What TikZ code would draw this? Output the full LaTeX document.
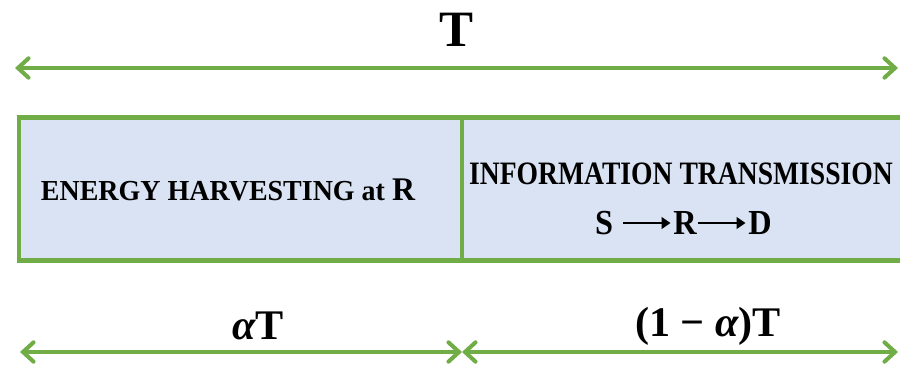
\documentclass[tikz,border=0pt]{standalone}
\usepackage{fontspec}
\setmainfont{Liberation Serif}
\usetikzlibrary{arrows.meta}
\definecolor{phasegreen}{RGB}{112,173,71}
\definecolor{phaseblue}{RGB}{218,227,243}

\begin{document}
\begin{tikzpicture}[x=0.02cm,y=0.02cm,
  span/.style={draw=phasegreen, line width=2.3pt,
    {Straight Barb[length=6pt,width=11pt,line cap=round]}-{Straight Barb[length=6pt,width=11pt,line cap=round]}},
  phase/.style={draw=phasegreen, line width=2.5pt, fill=phaseblue,
    inner sep=0pt, outer sep=0pt, minimum height=2.86cm, anchor=north west},
  lbl/.style={inner sep=0pt, font=\bfseries},
  hop/.style={inner sep=0pt, font=\bfseries\fontsize{20}{22}\selectfont, xscale=0.92, transform shape},
  hoparrow/.style={line width=1.6pt, -{Triangle[length=5pt,width=6.5pt]}}]
\useasboundingbox (0,0) rectangle (900,365);
\clip (0,0) rectangle (900,365);
% the slot T and its two phases
\node[phase, minimum width=8.86cm] (harvest) at (19,247.5) {};
\node[phase, minimum width=8.9cm] (transmit) at (harvest.north east) {};
\node[lbl, font=\bfseries\fontsize{16.5}{18}\selectfont] (harvesttxt) at (228,175)
  {\scalebox{0.965}[1]{ENERGY HARVESTING at {\fontsize{18.8}{20}\selectfont R}}};
\node[lbl, font=\bfseries\fontsize{18.6}{20}\selectfont] (transmittxt) at (681,191)
  {\scalebox{0.845}[1]{INFORMATION TRANSMISSION}};
% S -> R -> D
\node[hop] (src) at (604,142) {S};
\node[hop] (rly) at (685,142) {R};
\node[hop] (dst) at (760,142) {D};
\draw[hoparrow] ([xshift=0.2cm]src.east) -- ([xshift=-0.05cm]rly.west);
\draw[hoparrow] ([xshift=0.02cm]rly.east) -- ([xshift=-0.05cm]dst.west);
% time spans
\coordinate (tl) at (15,297);
\coordinate (tr) at (898,297);
\coordinate (bl) at (20,13);
\coordinate (bm) at (462,13);
\coordinate (br) at (898,13);
\draw[span] (tl) -- (tr);
\draw[span] (bl) -- (bm);
\draw[span] (bm) -- (br);
\node[lbl, font=\bfseries\fontsize{29}{30}\selectfont] (ttotal) at (456,335) {T};
\node[lbl, font=\bfseries\fontsize{24}{26}\selectfont] (tharvest) at (258,39) {{\itshape α}T};
\node[lbl, font=\bfseries\fontsize{24}{26}\selectfont] (ttransmit) at (708,39) {(1 − {\itshape α})T};
\end{tikzpicture}
\end{document}
